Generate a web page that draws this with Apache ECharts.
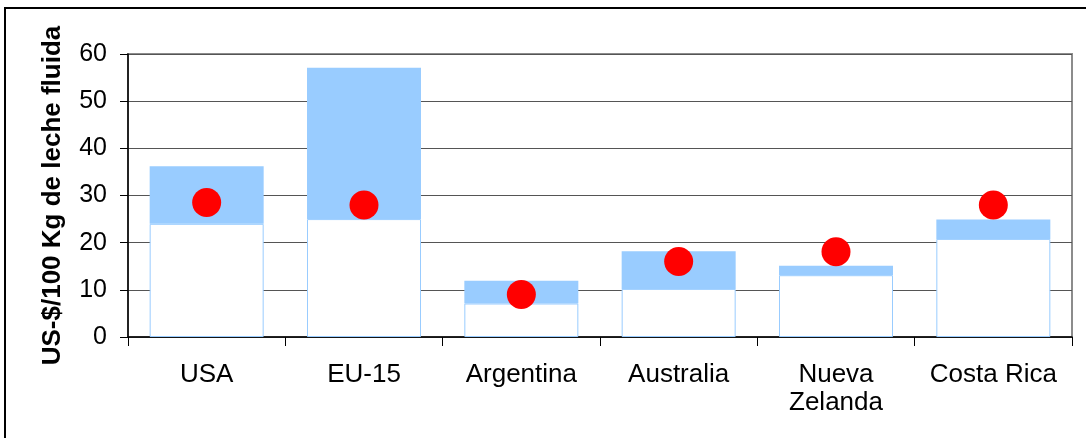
<!DOCTYPE html>
<html>
<head>
<meta charset="utf-8">
<script src="https://cdn.jsdelivr.net/npm/echarts@6/dist/echarts.min.js"></script>
<style>
  html, body { margin: 0; padding: 0; background: #fff; }
  #chart { width: 1086px; height: 438px; }
</style>
</head>
<body>
<div id="chart"></div>
<script>
// Fluid milk price ranges per country (US-$ per 100 kg)
const categories = ['USA', 'EU-15', 'Argentina', 'Australia', 'Nueva\nZelanda', 'Costa Rica'];
const rangeLow  = [24.0, 25.0, 7.1, 10.2, 13.1, 20.8];
const rangeHigh = [36.2, 57.1, 11.9, 18.2, 15.1, 24.9];
const pointValues = [28.5, 28.0, 9.0, 16.0, 18.1, 28.0];
const yTicks = { min: 0, max: 60, interval: 10 };

// Upper (blue) segment of each range bar
const rangeSpan = rangeHigh.map((h, i) => +(h - rangeLow[i]).toFixed(2));

const FONT = '"Liberation Sans", Arial, sans-serif';

const chart = echarts.init(document.getElementById('chart'), null, { renderer: 'canvas' });

chart.setOption({
  animation: false,
  backgroundColor: '#fff',
  textStyle: { fontFamily: FONT },
  grid: {
    left: 128, right: 14, top: 54, bottom: 101,
    containLabel: false,
    show: true,
    borderColor: '#8c8c8c',
    borderWidth: 2,
    backgroundColor: 'transparent'
  },
  graphic: [{
    type: 'rect',
    z: 100,
    shape: { x: 5, y: 8, width: 1100, height: 460 },
    style: { fill: 'none', stroke: '#000', lineWidth: 2 },
    silent: true
  }],
  xAxis: {
    type: 'category',
    data: categories,
    boundaryGap: true,
    axisLine: { show: true, lineStyle: { color: '#000', width: 1.5 } },
    axisTick: { show: true, length: 9, interval: 0, lineStyle: { color: '#000', width: 1 } },
    axisLabel: {
      interval: 0,
      margin: 24,
      color: '#000',
      fontSize: 26,
      lineHeight: 28,
      fontFamily: FONT
    },
    splitLine: { show: false }
  },
  yAxis: {
    type: 'value',
    min: yTicks.min,
    max: yTicks.max,
    interval: yTicks.interval,
    name: 'US-$/100 Kg de leche fluida',
    nameLocation: 'middle',
    nameRotate: 90,
    nameGap: 62,
    nameTextStyle: {
      color: '#000',
      fontSize: 26,
      fontWeight: 'bold',
      fontFamily: FONT
    },
    axisLine: { show: true, lineStyle: { color: '#000', width: 1.5 } },
    axisTick: { show: true, length: 8, lineStyle: { color: '#000', width: 1 } },
    axisLabel: {
      margin: 21,
      color: '#000',
      fontSize: 25,
      fontFamily: FONT
    },
    splitLine: { show: true, lineStyle: { color: '#555', width: 1 } }
  },
  series: [
    {
      name: 'base',
      type: 'bar',
      stack: 'range',
      barWidth: 114,
      data: rangeLow,
      itemStyle: { color: '#fff', borderColor: '#99CCFF', borderWidth: 1 }
    },
    {
      name: 'range',
      type: 'bar',
      stack: 'range',
      barWidth: 114,
      data: rangeSpan,
      itemStyle: { color: '#99CCFF' }
    },
    {
      name: 'value',
      type: 'scatter',
      data: pointValues,
      symbol: 'circle',
      symbolSize: 29,
      itemStyle: { color: '#FF0000', opacity: 1 },
      z: 5
    }
  ]
});
</script>
</body>
</html>
